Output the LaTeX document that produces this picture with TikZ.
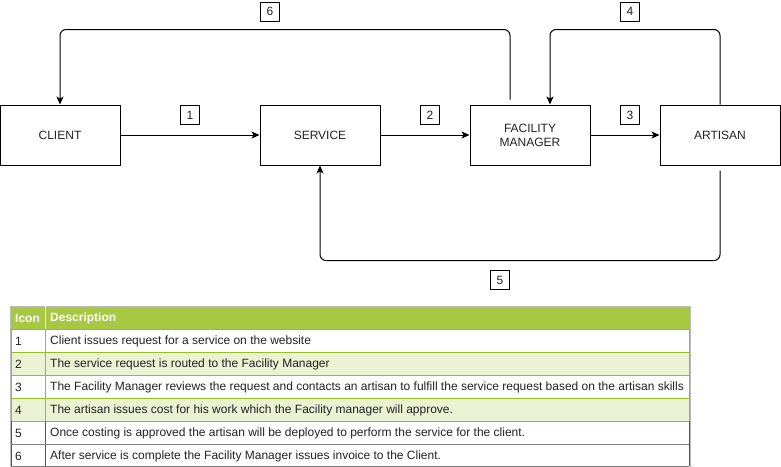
\documentclass[tikz,border=0pt]{standalone}
\usepackage{fontspec}
\setmainfont{Liberation Sans}
\usetikzlibrary{arrows.meta}
\definecolor{hdr}{HTML}{A7C942}
\definecolor{alt}{HTML}{EAF2D3}
\definecolor{grn}{HTML}{98BF21}
\definecolor{txt}{HTML}{222222}
\definecolor{frame}{HTML}{BBBBBB}
\definecolor{dk}{HTML}{555555}
\begin{document}
\begin{tikzpicture}[x=1pt,y=-1pt,
  box/.style={draw, line width=1pt, minimum width=120pt, minimum height=60pt, inner sep=0pt,
    align=center, text=txt, font=\fontsize{12}{14}\selectfont},
  lab/.style={draw, line width=0.8pt, minimum size=19pt, inner sep=0pt, text=txt,
    font=\fontsize{12}{14}\selectfont},
  arr/.style={line width=1pt, -{Stealth[length=8pt,width=7pt,inset=2pt]}},
  cell/.style={anchor=west, inner sep=0pt, text=txt, font=\fontsize{12}{14}\selectfont},
  head/.style={anchor=west, inner sep=0pt, text=white, font=\bfseries\fontsize{12}{14}\selectfont}]
\useasboundingbox (0,0) rectangle (781,466);

% boxes
\node[box] (client) at (60,135) {CLIENT};
\node[box] (service) at (320,135) {SERVICE};
\node[box] (fm) at (530,135) {FACILITY\\MANAGER};
\node[box] (artisan) at (720,135) {ARTISAN};

% labels
\node[lab] (l1) at (190,115) {1};
\node[lab] (l2) at (430,115) {2};
\node[lab] (l3) at (630,115) {3};
\node[lab] (l4) at (630,11.5) {4};
\node[lab] (l5) at (500,280) {5};
\node[lab] (l6) at (270,11.5) {6};

% connectors
\draw[arr] (client) -- (service);
\draw[arr] (service) -- (fm);
\draw[arr] (fm) -- (artisan);
\draw[arr, rounded corners=6pt] ([xshift=-20pt,yshift=5pt]fm.north) -- ++(0,-70) -| (client.north);
\draw[arr, rounded corners=6pt] (artisan.north) -- ++(0,-75) -| ([xshift=20pt]fm.north);
\draw[arr, rounded corners=6pt] ([yshift=-5pt]artisan.south) -- ++(0,90) -| (service.south);

% table
\fill[hdr] (10,306) rectangle (690,329);
\fill[alt] (11,352) rectangle (689,375);
\fill[alt] (11,398) rectangle (689,421);
\draw[frame, line width=1pt] (10,306) rectangle (690,467);
\draw[white!85!hdr, line width=0.8pt] (45,306) -- (45,329);
\draw[grn, line width=1pt] (11,329) -- (689,329)
  (11,352) -- (689,352) (11,375) -- (689,375) (11,398) -- (689,398) (11,421) -- (689,421);
\draw[grn, line width=1pt] (11,329) -- (11,421) (45,329) -- (45,421) (689,329) -- (689,421);
\draw[dk, line width=1pt] (11,421) -- (11,466) (45,421) -- (45,466) (689,421) -- (689,466);
\draw[gray, line width=1pt] (11,444) -- (689,444) (11,466) -- (689,466);

\node[head] (h1) at (15,318) {Icon};
\node[head] (h2) at (50,318) {Description};
\foreach \i/\t [count=\k] in {
  1/Client issues request for a service on the website,
  2/The service request is routed to the Facility Manager,
  3/The Facility Manager reviews the request and contacts an artisan to fulfill the service request based on the artisan skills,
  4/The artisan issues cost for his work which the Facility manager will approve.,
  5/Once costing is approved the artisan will be deployed to perform the service for the client.,
  6/After service is complete the Facility Manager issues invoice to the Client.} {
  \node[cell] (n\k) at (15,{329+23*\k-11}) {\i};
  \node[cell] (d\k) at (50,{329+23*\k-11}) {\t};
}
\end{tikzpicture}
\end{document}
